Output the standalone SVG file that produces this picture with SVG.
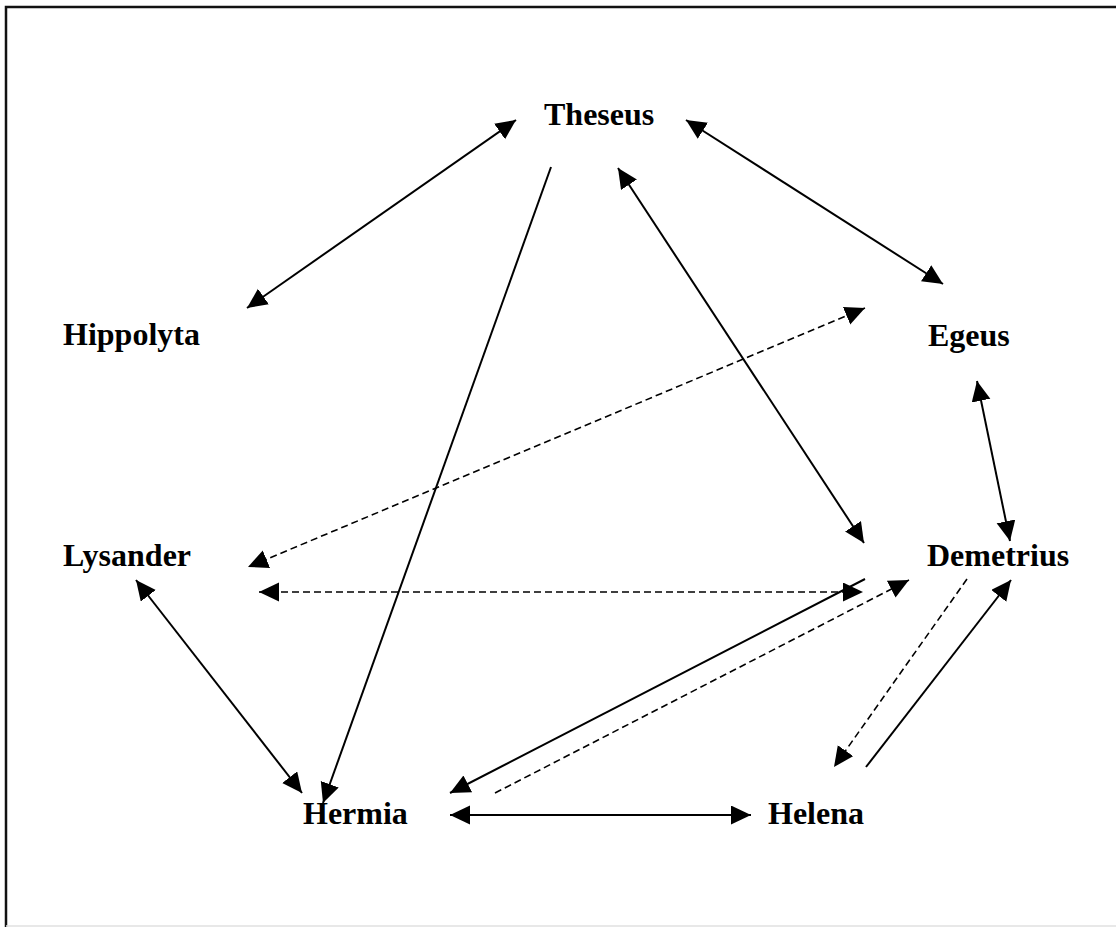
<svg xmlns="http://www.w3.org/2000/svg" width="1116" height="927" viewBox="0 0 1116 927">
<style>
.lbl{font-family:"Liberation Serif","Times New Roman",serif;font-weight:bold;font-size:32px;fill:#000}
.s{stroke:#000;stroke-width:2;fill:none}
.d{stroke:#000;stroke-width:1.6;fill:none;stroke-dasharray:7,4}
</style>
<defs>
<marker id="ah" markerUnits="userSpaceOnUse" markerWidth="22" markerHeight="20" refX="20" refY="9.5" orient="auto-start-reverse" viewBox="0 0 22 20">
<path d="M0,0 L20,9.5 L0,19 z" fill="#000"/>
</marker>
</defs>
<rect width="1116" height="927" fill="#fff"/>
<path d="M6,927 V7 H1116" stroke="#111" stroke-width="2.5" fill="none"/>
<line x1="6" y1="926" x2="1116" y2="926" stroke="#e0e0e0" stroke-width="1.5"/>
<g id="connectors">
<line class="s" x1="516" y1="120" x2="247" y2="308" marker-start="url(#ah)" marker-end="url(#ah)"/>
<line class="s" x1="686" y1="120" x2="943" y2="284" marker-start="url(#ah)" marker-end="url(#ah)"/>
<line class="s" x1="551" y1="167" x2="323" y2="803" marker-end="url(#ah)"/>
<line class="s" x1="618" y1="168" x2="864" y2="543" marker-start="url(#ah)" marker-end="url(#ah)"/>
<line class="s" x1="977" y1="381" x2="1010" y2="541" marker-start="url(#ah)" marker-end="url(#ah)"/>
<line class="d" x1="865" y1="308" x2="248" y2="567" marker-start="url(#ah)" marker-end="url(#ah)"/>
<line class="d" x1="259" y1="592" x2="863" y2="592" marker-start="url(#ah)" marker-end="url(#ah)"/>
<line class="s" x1="136" y1="580" x2="302" y2="793" marker-start="url(#ah)" marker-end="url(#ah)"/>
<line class="s" x1="865" y1="579" x2="450" y2="793" marker-end="url(#ah)"/>
<line class="d" x1="495" y1="793" x2="909" y2="580" marker-end="url(#ah)"/>
<line class="d" x1="967" y1="579" x2="834" y2="767" marker-end="url(#ah)"/>
<line class="s" x1="866" y1="767" x2="1011" y2="580" marker-end="url(#ah)"/>
<line class="s" x1="450" y1="815" x2="751" y2="815" marker-start="url(#ah)" marker-end="url(#ah)"/>
</g>
<g id="theseus"><text class="lbl" x="544" y="125">Theseus</text></g>
<g id="hippolyta"><text class="lbl" x="63" y="345">Hippolyta</text></g>
<g id="egeus"><text class="lbl" x="928" y="346">Egeus</text></g>
<g id="lysander"><text class="lbl" x="63" y="566">Lysander</text></g>
<g id="demetrius"><text class="lbl" x="927" y="566">Demetrius</text></g>
<g id="hermia"><text class="lbl" x="303" y="824">Hermia</text></g>
<g id="helena"><text class="lbl" x="768" y="824">Helena</text></g>
</svg>
